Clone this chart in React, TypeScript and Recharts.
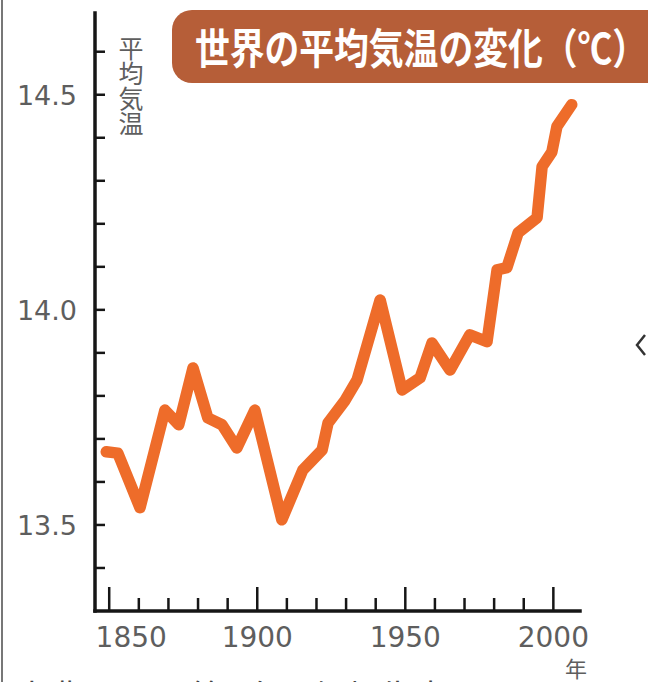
import React from 'react';
import { LineChart, Line, XAxis, YAxis } from 'recharts';

// ---- data ----
const years = [1849, 1852.9, 1860.4, 1868.8, 1873.5, 1878.3, 1883.3, 1888.1, 1893.1, 1899.2, 1908.3, 1915.4, 1921.9, 1923.9, 1929.7, 1933.7, 1941.5, 1948.9, 1955.0, 1959.0, 1965.1, 1971.8, 1977.6, 1981.0, 1984.3, 1988.1, 1994.5, 1996.2, 1999.5, 2001.2, 2006.2];
const temps = [13.67, 13.667, 13.54, 13.767, 13.733, 13.865, 13.749, 13.733, 13.679, 13.767, 13.512, 13.628, 13.674, 13.737, 13.79, 13.837, 14.023, 13.814, 13.842, 13.923, 13.86, 13.942, 13.926, 14.093, 14.098, 14.179, 14.214, 14.333, 14.367, 14.426, 14.477];

const xTicks = [1850, 1860, 1870, 1880, 1890, 1900, 1910, 1920, 1930, 1940, 1950, 1960, 1970, 1980, 1990, 2000];
const xLabelTicks = [1850, 1900, 1950, 2000];
const yTicks = [13.4, 13.5, 13.6, 13.7, 13.8, 13.9, 14.0, 14.1, 14.2, 14.3, 14.4, 14.5, 14.6];
const yLabelTicks = [13.5, 14.0, 14.5];

const title = '世界の平均気温の変化（℃）';
const yAxisTitle = '平均気温';
const xUnit = '年';
const source = '出典：IPCC第4次評価報告書より';

const data = years.map((year, i) => ({ year, temp: temps[i] }));

const W = 648;
const H = 682;
const LABEL_FILL = '#5e5e5e';
const AXIS = '#161616';
const NUM_FONT = '"DejaVu Sans", sans-serif';
const JP_FONT = '"Noto Sans CJK JP", sans-serif';

const XTick = (props: any) => {
  const { x, y, payload } = props;
  const v = payload.value as number;
  const major = xLabelTicks.includes(v);
  return (
    <g>
      <line x1={x} x2={x} y1={y} y2={y - (major ? 24 : 13)} stroke={AXIS} strokeWidth={2.5} />
      {major && (
        <text
          x={x + (v === xLabelTicks[0] ? 22 : 0)}
          y={y + 36}
          textAnchor="middle"
          fontFamily={NUM_FONT}
          fontSize={28}
          fill={LABEL_FILL}
        >
          {v}
        </text>
      )}
    </g>
  );
};

const YTick = (props: any) => {
  const { x, y, payload } = props;
  const v = payload.value as number;
  const major = yLabelTicks.some((t) => Math.abs(t - v) < 1e-6);
  return (
    <g>
      <line x1={x} x2={x + 10} y1={y} y2={y} stroke={AXIS} strokeWidth={2.5} />
      {major && (
        <text x={x - 18} y={y + 10} textAnchor="end" fontFamily={NUM_FONT} fontSize={27} fill={LABEL_FILL}>
          {v.toFixed(1)}
        </text>
      )}
    </g>
  );
};

export default function App() {
  return (
    <div
      style={{
        position: 'fixed',
        left: 0,
        top: 0,
        width: W,
        height: H,
        overflow: 'hidden',
        background: '#ffffff',
      }}
    >
      <LineChart width={W} height={H} data={data} margin={{ top: 13, right: 68, bottom: 0, left: 0 }}>
        <XAxis
          dataKey="year"
          type="number"
          domain={[1845.2, 2009]}
          ticks={xTicks}
          interval={0}
          allowDataOverflow
          height={71}
          tickSize={0}
          tickMargin={0}
          tickLine={false}
          axisLine={{ stroke: AXIS, strokeWidth: 3.5, strokeLinecap: 'square' }}
          tick={<XTick />}
        />
        <YAxis
          type="number"
          domain={[13.3, 14.69]}
          ticks={yTicks}
          interval={0}
          allowDataOverflow
          width={95}
          tickSize={0}
          tickMargin={0}
          tickLine={false}
          axisLine={{ stroke: AXIS, strokeWidth: 3.5, strokeLinecap: 'square' }}
          tick={<YTick />}
        />
        <Line
          type="linear"
          dataKey="temp"
          stroke="#EE6C2A"
          strokeWidth={11.5}
          strokeLinejoin="round"
          strokeLinecap="round"
          dot={false}
          activeDot={false}
          isAnimationActive={false}
        />
      </LineChart>
      <svg
        width={W}
        height={H}
        style={{ position: 'absolute', left: 0, top: 0, pointerEvents: 'none' }}
      >
        <line x1={2} x2={2} y1={0} y2={H} stroke="#777" strokeWidth={2} />
        <rect x={172} y={10} width={520} height={73} rx={20} ry={20} fill="#B65E38" />
        <text
          x={195}
          y={64}
          fontFamily={JP_FONT}
          fontWeight={700}
          fontSize={42}
          fill="#ffffff"
          textLength={452}
          lengthAdjust="spacingAndGlyphs"
        >
          {title}
        </text>
        <text
          x={131}
          y={36}
          fontFamily={JP_FONT}
          fontSize={25}
          fill={LABEL_FILL}
          style={{ writingMode: 'vertical-rl' } as any}
        >
          {yAxisTitle}
        </text>
        <text x={576} y={677} textAnchor="middle" fontFamily={JP_FONT} fontSize={22} fill={LABEL_FILL}>
          {xUnit}
        </text>
        <text
          x={15}
          y={705}
          fontFamily={JP_FONT}
          fontSize={28}
          fill="#444"
          textLength={500}
          lengthAdjust="spacingAndGlyphs"
        >
          {source}
        </text>
        <polyline points="645,335 637,345 645,355" fill="none" stroke="#333" strokeWidth={2.5} />
      </svg>
    </div>
  );
}
